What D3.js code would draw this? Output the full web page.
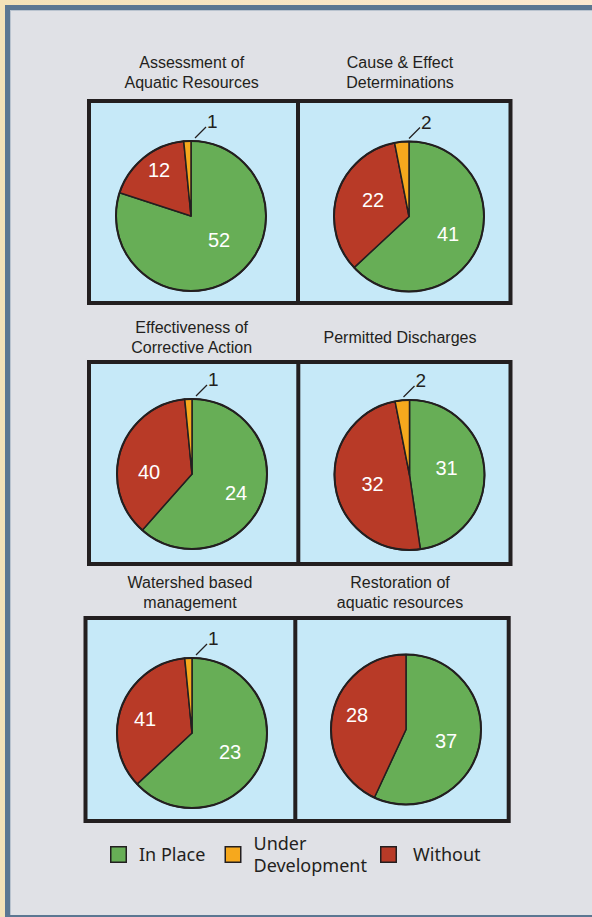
<!DOCTYPE html>
<html>
<head>
<meta charset="utf-8">
<script src="https://cdn.jsdelivr.net/npm/d3@7"></script>
<style>
  body { margin: 0; background: #f7e8c6; }
  svg { display: block; }
</style>
</head>
<body>
<svg width="592" height="917"></svg>
<script>
// Data
var categories = ["In Place", "Under Development", "Without"];
var titles = [
  ["Assessment of", "Aquatic Resources"],
  ["Cause & Effect", "Determinations"],
  ["Effectiveness of", "Corrective Action"],
  ["Permitted Discharges"],
  ["Watershed based", "management"],
  ["Restoration of", "aquatic resources"]
];
var inPlace  = [52, 41, 24, 31, 23, 37];
var underDev = [1, 2, 1, 2, 1, 0];
var without  = [12, 22, 40, 32, 41, 28];
// in the source figure the green and red wedges of these charts are sized
// with the two counts exchanged (green wedge is the big one)
var swappedWedges = [false, false, true, false, true, false];

// Layout (boxes, pie centres, label nudges)
var rows = [
  {x0: 89,   x1: 510.5, y0: 101, y1: 303, div: 298},
  {x0: 89,   x1: 510.5, y0: 362, y1: 564, div: 298.3},
  {x0: 85.5, x1: 508.7, y0: 618, y1: 821, div: 295.3}
];
var centres = [[191, 216], [409, 216.5], [192, 474], [409.5, 475], [192, 733], [406, 729.5]];
var titleX = [191.7, 400, 191.7, 400, 190, 400];
var titleBase = [88, 88, 353, 343, 608, 608];   // baseline of last title line
var labelAt = [   // [green dx,dy], [red dx,dy] from pie centre
  [[28, 24], [-32, -46]],
  [[39, 17], [-36, -17]],
  [[44, 19], [-43, -2]],
  [[37, -7], [-37, 9]],
  [[38, 19], [-47, -14]],
  [[40, 11], [-49, -15]]
];
var calloutDx = [4, 0, 4, -6, 4, 0];
var radius = 75;

var colors = {"In Place": "#67ae56", "Under Development": "#f6a81d", "Without": "#b83a27"};
var ink = "#231f20";

var svg = d3.select("svg");

// frame
var defs = svg.append("defs");
var grad = defs.append("linearGradient").attr("id", "cream").attr("x1", 0).attr("x2", 1);
grad.append("stop").attr("offset", 0).attr("stop-color", "#f3e2b8");
grad.append("stop").attr("offset", 1).attr("stop-color", "#fce9d0");
svg.append("rect").attr("width", 592).attr("height", 917).attr("fill", "url(#cream)");
svg.append("rect").attr("x", 5).attr("y", 5).attr("width", 600).attr("height", 920).attr("fill", "#5b7792");
svg.append("rect").attr("x", 10).attr("y", 10).attr("width", 600).attr("height", 905).attr("fill", "#b9c3cf");
svg.append("rect").attr("x", 11).attr("y", 11).attr("width", 600).attr("height", 904).attr("fill", "#e0e1e6");

// boxes
rows.forEach(function(r) {
  svg.append("rect")
    .attr("x", r.x0).attr("y", r.y0)
    .attr("width", r.x1 - r.x0).attr("height", r.y1 - r.y0)
    .attr("fill", "#c6e9f8").attr("stroke", ink).attr("stroke-width", 4);
  svg.append("line")
    .attr("x1", r.div).attr("x2", r.div).attr("y1", r.y0).attr("y2", r.y1)
    .attr("stroke", ink).attr("stroke-width", 4);
});

var pie = d3.pie().sort(null).value(function(d) { return d.value; });
var arc = d3.arc().innerRadius(0).outerRadius(radius);

titles.forEach(function(t, i) {
  var cx = centres[i][0], cy = centres[i][1];
  var gVal = swappedWedges[i] ? without[i] : inPlace[i];
  var rVal = swappedWedges[i] ? inPlace[i] : without[i];
  var slices = [
    {key: "In Place", value: gVal},
    {key: "Without", value: rVal},
    {key: "Under Development", value: underDev[i]}
  ];

  // title
  var tt = svg.append("text")
    .attr("x", titleX[i]).attr("text-anchor", "middle")
    .style("font-family", "'Liberation Sans', Arial, sans-serif")
    .style("font-size", "16px").attr("fill", ink);
  t.forEach(function(line, j) {
    tt.append("tspan").attr("x", titleX[i])
      .attr("y", titleBase[i] - (t.length - 1 - j) * 20.5).text(line);
  });

  var g = svg.append("g").attr("transform", "translate(" + cx + "," + cy + ")");
  g.selectAll("path")
    .data(pie(slices).filter(function(d) { return d.data.value > 0; }))
    .enter().append("path")
      .attr("d", arc)
      .attr("fill", function(d) { return colors[d.data.key]; })
      .attr("stroke", ink).attr("stroke-width", 1.5).attr("stroke-linejoin", "round");
  g.append("circle").attr("r", radius).attr("fill", "none").attr("stroke", ink).attr("stroke-width", 2);

  // white labels (printed counts)
  [inPlace[i], without[i]].forEach(function(v, k) {
    g.append("text")
      .attr("x", labelAt[i][k][0]).attr("y", labelAt[i][k][1] + 7)
      .attr("text-anchor", "middle")
      .style("font-family", "'Liberation Sans', Arial, sans-serif")
      .style("font-size", "20px").attr("fill", "#fff")
      .text(v);
  });

  // callout for the small slice
  if (underDev[i] > 0) {
    var sx = calloutDx[i], top = -radius;
    g.append("line")
      .attr("x1", sx).attr("y1", top - 3)
      .attr("x2", sx + 11).attr("y2", top - 14)
      .attr("stroke", ink).attr("stroke-width", 1.3);
    g.append("text")
      .attr("x", sx + 12).attr("y", top - 13)
      .style("font-family", "'Liberation Sans', Arial, sans-serif")
      .style("font-size", "19px").attr("fill", ink)
      .text(underDev[i]);
  }
});

// legend
var legendX = [110, 224.5, 380];
var legend = svg.append("g")
  .style("font-family", "'Noto Sans', sans-serif").style("font-size", "18px");
categories.forEach(function(c, i) {
  legend.append("rect")
    .attr("x", legendX[i] + 0.75).attr("y", 846.75).attr("width", 15.5).attr("height", 15.5)
    .attr("fill", colors[c]).attr("stroke", ink).attr("stroke-width", 1.5);
  var words = c === "Under Development" ? ["Under", "Development"] : [c];
  var tx = legendX[i] + (i === 2 ? 33 : 29);
  var txt = legend.append("text").attr("fill", ink);
  words.forEach(function(w, j) {
    var y = words.length > 1 ? 849.5 + j * 22 : 861;
    txt.append("tspan").attr("x", tx).attr("y", y).text(w);
  });
});
</script>
</body>
</html>
